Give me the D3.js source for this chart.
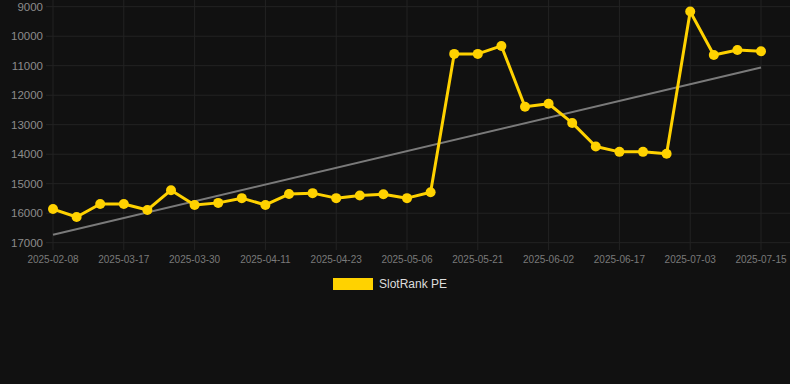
<!DOCTYPE html>
<html>
<head>
<meta charset="utf-8">
<script src="https://cdn.jsdelivr.net/npm/d3@7"></script>
<style>
  html, body { margin: 0; padding: 0; background: #111111; }
  svg { display: block; font-family: "Liberation Sans", Arial, sans-serif; }
</style>
</head>
<body>
<div id="chart"></div>
<script>
const WIDTH = 790
const HEIGHT = 384

// dates on the x axis (only every 3rd one is labelled)
const dates = [
  '2025-02-08', '2025-02-20', '2025-03-05', '2025-03-17', '2025-03-21', '2025-03-25',
  '2025-03-30', '2025-04-03', '2025-04-07', '2025-04-11', '2025-04-15', '2025-04-19',
  '2025-04-23', '2025-04-27', '2025-05-01', '2025-05-06', '2025-05-11', '2025-05-16',
  '2025-05-21', '2025-05-25', '2025-05-29', '2025-06-02', '2025-06-07', '2025-06-12',
  '2025-06-17', '2025-06-22', '2025-06-27', '2025-07-03', '2025-07-07', '2025-07-11',
  '2025-07-15'
]

const rank = [
  15860, 16130, 15690, 15690, 15890, 15220,
  15720, 15650, 15490, 15720, 15350, 15320,
  15490, 15400, 15360, 15490, 15290, 10600,
  10600, 10330, 12390, 12290, 12940, 13740,
  13920, 13920, 13985, 9160, 10640, 10470,
  10510
]

// trend line end values (first and last date)
const trend = [16730, 11060]

const yTicks = [9000, 10000, 11000, 12000, 13000, 14000, 15000, 16000, 17000]

const YELLOW = '#ffd200'
const GRID = '#232323'

const svg = d3.select('#chart')
  .append('svg')
  .attr('width', WIDTH)
  .attr('height', HEIGHT)

const x = d3.scalePoint().domain(dates).range([53, 761])
const y = d3.scaleLinear().domain([9000, 17000]).range([6.7, 242.7])

// horizontal grid
svg.append('g')
  .selectAll('line')
  .data(yTicks)
  .join('line')
  .attr('x1', 46).attr('x2', WIDTH)
  .attr('y1', d => y(d)).attr('y2', d => y(d))
  .attr('stroke', GRID)

// vertical grid at labelled dates
const labelled = dates.filter((d, i) => i % 3 === 0)
svg.append('g')
  .selectAll('line')
  .data(labelled)
  .join('line')
  .attr('x1', d => x(d)).attr('x2', d => x(d))
  .attr('y1', 0).attr('y2', 250)
  .attr('stroke', GRID)

// y labels
svg.append('g')
  .selectAll('text')
  .data(yTicks)
  .join('text')
  .attr('x', 43)
  .attr('y', d => y(d))
  .attr('dy', '0.35em')
  .attr('text-anchor', 'end')
  .attr('fill', '#8c8c8c')
  .attr('font-size', '11.5px')
  .text(d => d)

// x labels
svg.append('g')
  .selectAll('text')
  .data(labelled)
  .join('text')
  .attr('x', d => x(d))
  .attr('y', 263)
  .attr('text-anchor', 'middle')
  .attr('fill', '#7a7a7a')
  .attr('font-size', '10px')
  .text(d => d)

// trend line
svg.append('line')
  .attr('x1', x(dates[0])).attr('y1', y(trend[0]))
  .attr('x2', x(dates[dates.length - 1])).attr('y2', y(trend[1]))
  .attr('stroke', '#7a7a7a')
  .attr('stroke-width', 2)

const line = d3.line()
  .x((d, i) => x(dates[i]))
  .y(d => y(d))

svg.append('path')
  .datum(rank)
  .attr('d', line)
  .attr('fill', 'none')
  .attr('stroke', YELLOW)
  .attr('stroke-width', 3)
  .attr('stroke-linejoin', 'round')

svg.append('g')
  .selectAll('circle')
  .data(rank)
  .join('circle')
  .attr('cx', (d, i) => x(dates[i]))
  .attr('cy', d => y(d))
  .attr('r', 5)
  .attr('fill', YELLOW)

// legend
const legend = svg.append('g')
legend.append('rect')
  .attr('x', 333).attr('y', 278)
  .attr('width', 40).attr('height', 12)
  .attr('fill', YELLOW)
legend.append('text')
  .attr('x', 379).attr('y', 284)
  .attr('dy', '0.35em')
  .attr('fill', '#dddddd')
  .attr('font-size', '12px')
  .text('SlotRank PE')
</script>
</body>
</html>
